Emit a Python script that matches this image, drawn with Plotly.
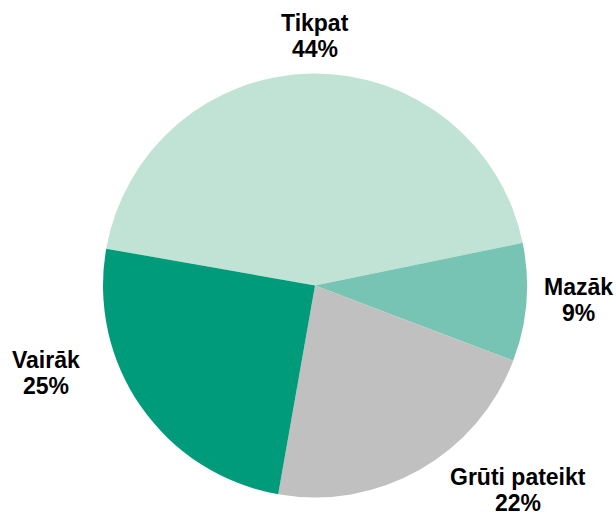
import plotly.graph_objects as go

# Survey answer shares (percent), in clockwise order starting from the top slice
categories = ["Tikpat", "Mazāk", "Grūti pateikt", "Vairāk"]
values = [44, 9, 22, 25]
colors = ["#c1e3d5", "#77c3b4", "#c0c0c0", "#009b7b"]

# Label positions in pixels: x centre, y centre of the first text line
label_px = [(315, 23), (578, 287), (518, 477), (46, 360)]
LINE_GAP = 26

W, H = 616, 516
CX, CY, R = 315, 285.5, 212

fig = go.Figure(
    go.Pie(
        labels=categories,
        values=values,
        sort=False,
        direction="clockwise",
        rotation=-80,
        marker=dict(colors=colors, line=dict(width=0)),
        textinfo="none",
        hoverinfo="label+percent",
        showlegend=False,
        domain=dict(x=[(CX - R) / W, (CX + R) / W],
                    y=[1 - (CY + R) / H, 1 - (CY - R) / H]),
    )
)

font = dict(family="Liberation Sans, Arial, sans-serif", size=23, color="#000000")
for cat, val, (px, py) in zip(categories, values, label_px):
    for i, line in enumerate([cat, f"{val}%"]):
        fig.add_annotation(
            x=px / W,
            y=1 - (py + i * LINE_GAP) / H,
            xref="paper",
            yref="paper",
            text=f"<b>{line}</b>",
            showarrow=False,
            xanchor="center",
            yanchor="middle",
            font=font,
        )

fig.update_layout(
    width=W,
    height=H,
    margin=dict(l=0, r=0, t=0, b=0),
    paper_bgcolor="#ffffff",
    plot_bgcolor="#ffffff",
)

fig.write_html("out.html")
